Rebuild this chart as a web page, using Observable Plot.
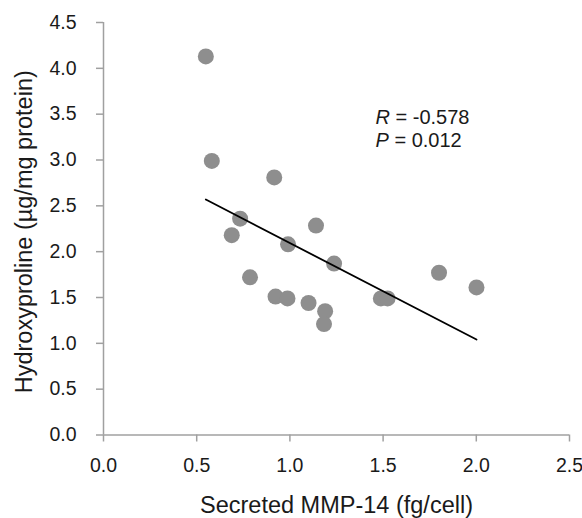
<!DOCTYPE html>
<html>
<head>
<meta charset="utf-8">
<script src="https://cdn.jsdelivr.net/npm/d3@7"></script>
<script src="https://cdn.jsdelivr.net/npm/@observablehq/plot@0.6"></script>
<style>
  html, body { margin: 0; padding: 0; background: #fff; }
  #chart svg { display: block; }
</style>
</head>
<body>
<div id="chart"></div>
<script>
// Data
const mmp14 = [0.549, 0.581, 0.916, 0.733, 0.688, 1.140, 0.990, 1.237, 0.786,
               0.923, 0.987, 1.100, 1.189, 1.183, 1.488, 1.524, 1.800, 2.001];
const hydroxyproline = [4.13, 2.99, 2.81, 2.36, 2.18, 2.285, 2.08, 1.87, 1.72,
                        1.51, 1.49, 1.44, 1.35, 1.21, 1.49, 1.49, 1.77, 1.61];
const xTicks = [0, 0.5, 1.0, 1.5, 2.0, 2.5];
const yTicks = [0, 0.5, 1.0, 1.5, 2.0, 2.5, 3.0, 3.5, 4.0, 4.5];
const xTitle = "Secreted MMP-14 (fg/cell)";
const yTitle = "Hydroxyproline (µg/mg protein)";
const statLines = ["R = -0.578", "P = 0.012"];

const data = mmp14.map((x, i) => ({x, y: hydroxyproline[i]}));
const fmt = d3.format(".1f");
const axisColor = "#a0a0a0";
const textColor = "#1a1a1a";

const chart = Plot.plot({
  width: 582,
  height: 518,
  marginLeft: 103,
  marginRight: 13,
  marginTop: 22,
  marginBottom: 83.5,
  style: {fontFamily: "'Liberation Sans', Arial, sans-serif", background: "#fff"},
  x: {domain: [0, 2.5]},
  y: {domain: [0, 4.5]},
  marks: [
    Plot.ruleX([0], {stroke: axisColor, strokeWidth: 1.5}),
    Plot.ruleY([0], {stroke: axisColor, strokeWidth: 1.5}),
    Plot.axisX({ticks: xTicks, tickFormat: fmt, tickSize: 7, tickPadding: 16.5,
      stroke: axisColor, strokeWidth: 1.5, fill: textColor, fontSize: 19.5, label: null}),
    Plot.axisY({ticks: yTicks, tickFormat: fmt, tickSize: 7, tickPadding: 20,
      stroke: axisColor, strokeWidth: 1.5, fill: textColor, fontSize: 19.5, label: null}),
    Plot.dot(data, {x: "x", y: "y", r: 8, fill: "#8e8e8e", stroke: "none"}),
    Plot.linearRegressionY(data, {x: "x", y: "y", stroke: "#000", strokeWidth: 1.8, ci: 0}),
    Plot.text([statLines.join("\n")], {
      text: d => d, frameAnchor: "top-left", textAnchor: "start", lineAnchor: "top",
      dx: 272, dy: 85.5, fontSize: 20, lineHeight: 1.15, fill: textColor
    }),
    Plot.text([xTitle], {
      text: d => d, frameAnchor: "bottom", textAnchor: "middle", lineAnchor: "middle", dy: 70.5,
      fontSize: 23.5, fill: textColor
    }),
    Plot.text([yTitle], {
      text: d => d, frameAnchor: "left", textAnchor: "middle", lineAnchor: "middle",
      rotate: -90, dx: -79, dy: 3, fontSize: 23.5, fill: textColor
    })
  ]
});

// italicize the statistic symbols (R, P)
chart.querySelectorAll("tspan").forEach(ts => {
  const t = ts.textContent;
  if (!statLines.includes(t)) return;
  ts.textContent = "";
  const it = document.createElementNS("http://www.w3.org/2000/svg", "tspan");
  it.setAttribute("font-style", "italic");
  it.textContent = t[0];
  ts.appendChild(it);
  ts.appendChild(document.createTextNode(t.slice(1)));
});

document.getElementById("chart").appendChild(chart);
</script>
</body>
</html>
